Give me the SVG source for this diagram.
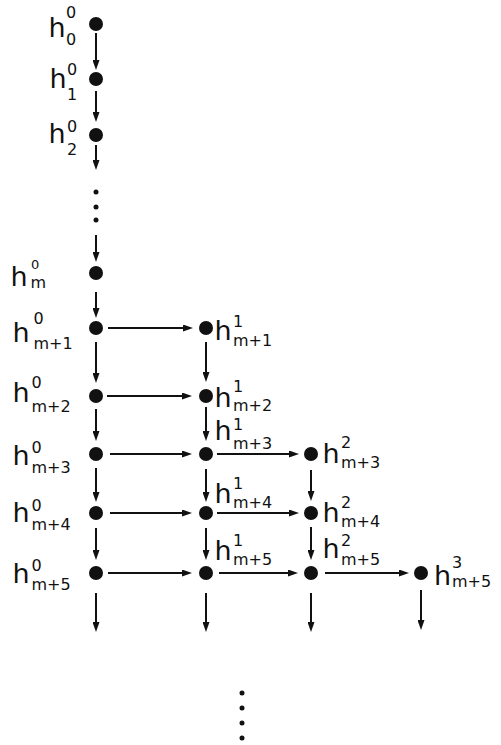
<svg xmlns="http://www.w3.org/2000/svg" width="501" height="745" viewBox="0 0 501 745">
<style>
.h{font-family:"DejaVu Sans",sans-serif;font-size:27px;fill:#111}
.s{font-size:16px}
.t{font-size:13px}
.e{stroke:#111;stroke-width:2;fill:none;marker-end:url(#ah)}
.d{fill:#111}
</style>
<defs>
<marker id="ah" markerUnits="userSpaceOnUse" markerWidth="10" markerHeight="7" viewBox="0 0 10 7" refX="7" refY="3.5" orient="auto">
<path d="M0,0 L10,3.5 L0,7 z" fill="#111"/>
</marker>
</defs>
<rect width="501" height="745" fill="#fff"/>
<g id="connectors">
<line class="e" x1="96" y1="33" x2="96" y2="67"/>
<line class="e" x1="96" y1="91" x2="96" y2="119"/>
<line class="e" x1="96" y1="145" x2="96" y2="167"/>
<line class="e" x1="96" y1="235" x2="96" y2="259"/>
<line class="e" x1="96" y1="292" x2="96" y2="315"/>
<line class="e" x1="96" y1="342" x2="96" y2="380"/>
<line class="e" x1="96" y1="409" x2="96" y2="438"/>
<line class="e" x1="96" y1="468" x2="96" y2="499"/>
<line class="e" x1="96" y1="528" x2="96" y2="557"/>
<line class="e" x1="96" y1="593" x2="96" y2="629"/>
<line class="e" x1="206" y1="342" x2="206" y2="379"/>
<line class="e" x1="206" y1="407" x2="206" y2="438"/>
<line class="e" x1="206" y1="469" x2="206" y2="499"/>
<line class="e" x1="206" y1="528" x2="206" y2="557"/>
<line class="e" x1="206" y1="593" x2="206" y2="629"/>
<line class="e" x1="311" y1="470" x2="311" y2="498"/>
<line class="e" x1="311" y1="527" x2="311" y2="557"/>
<line class="e" x1="311" y1="593" x2="311" y2="629"/>
<line class="e" x1="421" y1="590" x2="421" y2="627"/>
<line class="e" x1="108" y1="328" x2="190" y2="328"/>
<line class="e" x1="107" y1="396" x2="189" y2="396"/>
<line class="e" x1="110" y1="454" x2="189" y2="454"/>
<line class="e" x1="217" y1="454" x2="296" y2="454"/>
<line class="e" x1="110" y1="513" x2="189" y2="513"/>
<line class="e" x1="217" y1="513" x2="296" y2="513"/>
<line class="e" x1="108" y1="573" x2="189" y2="573"/>
<line class="e" x1="219" y1="573" x2="295" y2="573"/>
<line class="e" x1="325" y1="573" x2="406" y2="573"/>
</g>
<g id="n-h0-0"><circle class="d" cx="96" cy="24" r="7"/><text class="h" x="48.5" y="37">h<tspan class="s" x="66" y="18">0</tspan><tspan class="s" x="66" y="45">0</tspan></text></g>
<g id="n-h0-1"><circle class="d" cx="96" cy="79" r="7"/><text class="h" x="49.5" y="88">h<tspan class="s" x="67" y="75">0</tspan><tspan class="s" x="67" y="100">1</tspan></text></g>
<g id="n-h0-2"><circle class="d" cx="96" cy="135" r="7"/><text class="h" x="48.5" y="143">h<tspan class="s" x="67" y="132">0</tspan><tspan class="s" x="67" y="155">2</tspan></text></g>
<g id="ellipsis-top"><circle class="d" cx="96" cy="192" r="2.5"/><circle class="d" cx="96" cy="207" r="2.5"/><circle class="d" cx="96" cy="220" r="2.5"/></g>
<g id="n-h0-m"><circle class="d" cx="96" cy="273" r="7"/><text class="h" x="10.5" y="286">h<tspan class="t" x="31" y="269">0</tspan><tspan class="s" x="30.5" y="288">m</tspan></text></g>
<g id="n-h0-m1"><circle class="d" cx="96" cy="328" r="7"/><text class="h" x="12.5" y="342">h<tspan class="s" x="33.5" y="324">0</tspan><tspan class="s" x="33.5" y="349">m+1</tspan></text></g>
<g id="n-h0-m2"><circle class="d" cx="96" cy="396" r="7"/><text class="h" x="12.5" y="402">h<tspan class="s" x="31.5" y="388">0</tspan><tspan class="s" x="31.5" y="412">m+2</tspan></text></g>
<g id="n-h0-m3"><circle class="d" cx="96" cy="454" r="7"/><text class="h" x="12.5" y="465">h<tspan class="s" x="31.5" y="453">0</tspan><tspan class="s" x="31.5" y="473">m+3</tspan></text></g>
<g id="n-h0-m4"><circle class="d" cx="96" cy="513" r="7"/><text class="h" x="12.5" y="522">h<tspan class="s" x="31.5" y="511">0</tspan><tspan class="s" x="31.5" y="530">m+4</tspan></text></g>
<g id="n-h0-m5"><circle class="d" cx="96" cy="573" r="7"/><text class="h" x="12.5" y="583">h<tspan class="s" x="31.5" y="571">0</tspan><tspan class="s" x="31.5" y="590">m+5</tspan></text></g>
<g id="n-h1-m1"><circle class="d" cx="206" cy="328" r="7"/><text class="h" x="214.5" y="340">h<tspan class="s" x="233" y="327">1</tspan><tspan class="s" x="233" y="346">m+1</tspan></text></g>
<g id="n-h1-m2"><circle class="d" cx="206" cy="396" r="7"/><text class="h" x="214.5" y="407">h<tspan class="s" x="233" y="392">1</tspan><tspan class="s" x="233" y="411">m+2</tspan></text></g>
<g id="n-h1-m3"><circle class="d" cx="206" cy="454" r="7"/><text class="h" x="214.5" y="440">h<tspan class="s" x="233" y="430">1</tspan><tspan class="s" x="233" y="449">m+3</tspan></text></g>
<g id="n-h1-m4"><circle class="d" cx="206" cy="513" r="7"/><text class="h" x="214.5" y="503">h<tspan class="s" x="233" y="489">1</tspan><tspan class="s" x="233" y="508">m+4</tspan></text></g>
<g id="n-h1-m5"><circle class="d" cx="206" cy="573" r="7"/><text class="h" x="214.5" y="560">h<tspan class="s" x="233" y="546">1</tspan><tspan class="s" x="233" y="565">m+5</tspan></text></g>
<g id="n-h2-m3"><circle class="d" cx="311" cy="454" r="7"/><text class="h" x="322.5" y="463">h<tspan class="s" x="341" y="448">2</tspan><tspan class="s" x="341" y="468">m+3</tspan></text></g>
<g id="n-h2-m4"><circle class="d" cx="311" cy="513" r="7"/><text class="h" x="322.5" y="522">h<tspan class="s" x="341" y="508">2</tspan><tspan class="s" x="341" y="527">m+4</tspan></text></g>
<g id="n-h2-m5"><circle class="d" cx="311" cy="573" r="7"/><text class="h" x="322.5" y="558">h<tspan class="s" x="341" y="546">2</tspan><tspan class="s" x="341" y="565">m+5</tspan></text></g>
<g id="n-h3-m5"><circle class="d" cx="421" cy="573" r="7"/><text class="h" x="434" y="585">h<tspan class="s" x="452" y="568">3</tspan><tspan class="s" x="452" y="587">m+5</tspan></text></g>
<g id="ellipsis-bottom"><circle class="d" cx="242" cy="693" r="2.5"/><circle class="d" cx="242" cy="708" r="2.5"/><circle class="d" cx="242" cy="723" r="2.5"/><circle class="d" cx="242" cy="738" r="2.5"/></g>
</svg>
